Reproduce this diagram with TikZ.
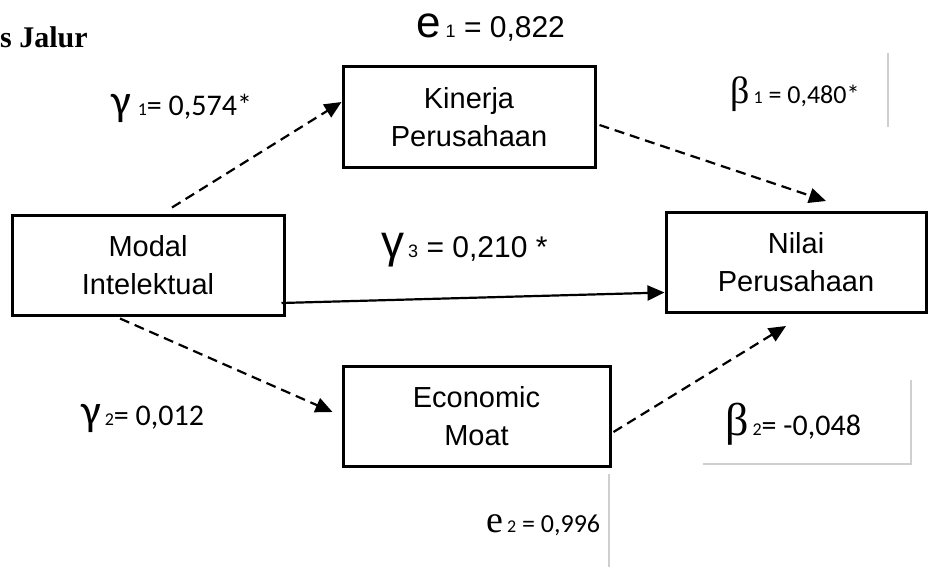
\documentclass[tikz,border=0pt]{standalone}
\usepackage{fontspec}
\setmainfont{Liberation Sans}
\newfontfamily\califont{Carlito}
\newfontfamily\timesfont{Liberation Serif}
\usepackage{tikz}
\usetikzlibrary{arrows.meta}
\definecolor{boxline}{HTML}{000000}
\definecolor{frameline}{HTML}{CFCFCF}
\tikzset{
  varbox/.style  = {rectangle, draw=boxline, line width=3pt, align=center,
                    font=\fontsize{29}{38}\selectfont, minimum height=100pt, inner sep=0pt},
  coef/.style    = {anchor=base west, inner sep=0pt, font=\califont\fontsize{30}{30}\selectfont},
  errlbl/.style  = {anchor=base west, inner sep=0pt, font=\fontsize{30}{30}\selectfont},
  ttl/.style     = {anchor=base west, inner sep=0pt, font=\timesfont\bfseries\fontsize{30}{30}\selectfont},
  dashpath/.style= {-{Triangle[length=17pt, width=15pt]}, line width=2.2pt, dash pattern=on 10pt off 6pt},
  solidpath/.style={-{Triangle[length=17pt, width=15pt]}, line width=2.2pt},
  frameln/.style = {draw=frameline, line width=1.2pt},
}
\newcommand{\gsym}[1]{{\fontsize{#1}{#1}\selectfont γ}}
\newcommand{\bsym}[1]{{\timesfont\fontsize{#1}{#1}\selectfont β}}
\newcommand{\esym}[1]{{\fontsize{#1}{#1}\selectfont e}}
\newcommand{\idx}[1]{{\fontsize{18}{18}\selectfont #1}}

\begin{document}
\begin{tikzpicture}[x=1pt, y=-1pt]
\useasboundingbox (0,0) rectangle (928,567);
\node[varbox, minimum width=272pt] (modal) at (148,265) {Modal\\Intelektual};
\node[varbox, minimum width=252pt] (kinerja) at (469,117) {Kinerja\\Perusahaan};
\node[varbox, minimum width=260pt] (nilai) at (796,262.5) {Nilai\\Perusahaan};
\node[varbox, minimum width=267pt] (moat) at (476.5,416) {Economic\\Moat};

\draw[dashpath] ([shift={(24,-6)}]modal.north) -- ([shift={(0,-15)}]kinerja.west);
\draw[dashpath] ([shift={(3,8)}]kinerja.east) -- ([shift={(30,-10)}]nilai.north);
\draw[solidpath] ([shift={(-4,38)}]modal.east) -- ([shift={(0,30)}]nilai.west);
\draw[dashpath] ([shift={(-28,2)}]modal.south) -- ([shift={(-9,-4)}]moat.west);
\draw[dashpath] ([shift={(2,16)}]moat.east) -- ([shift={(-10,12)}]nilai.south);

\node[ttl] (title) at (0,48) {s Jalur};
\node[coef] (g1) at (111,115) {\gsym{44}\hspace{7pt}\idx{1}= 0,574*};
\node[errlbl] (e1) at (416,38) {\esym{44}\hspace{5pt}\idx{1} = 0,822};
\node[coef, font=\califont\fontsize{26}{26}\selectfont] (b1) at (730,103) {\bsym{38}\hspace{4pt}\idx{1} = 0,480*};
\node[errlbl] (g3) at (381,257) {\gsym{46}\hspace{4pt}\idx{3} = 0,210 *};
\node[coef] (g2) at (81,425) {\gsym{44}\hspace{4pt}\idx{2}= 0,012};
\node[coef] (b2) at (725,435) {\bsym{46}\hspace{4pt}\idx{2}= -0,048};
\node[coef, font=\califont\fontsize{26}{26}\selectfont] (e2) at (486,532) {{\timesfont\fontsize{38}{38}\selectfont e}\hspace{4pt}\idx{2} = 0,996};

\draw[frameln] (888,53) -- (888,127);
\draw[frameln] (911,380) -- (911,464) -- (703,464);
\draw[frameln] (609,474) -- (609,567);
\end{tikzpicture}
\end{document}
